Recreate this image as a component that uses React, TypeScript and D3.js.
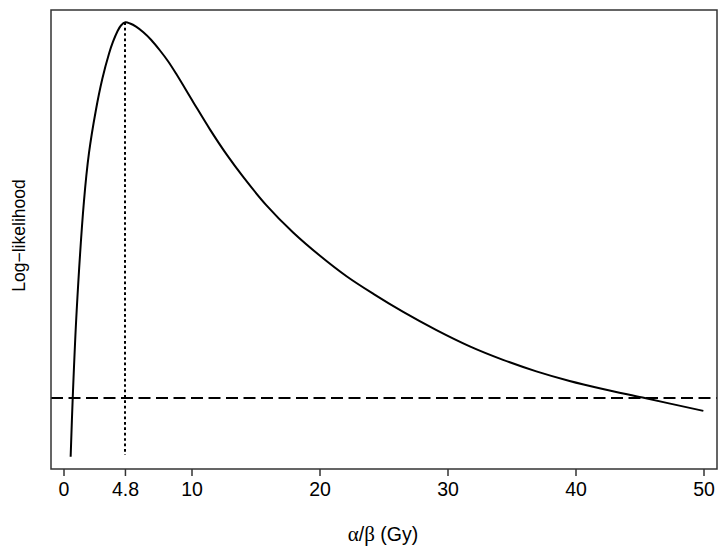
import React from "react";
import * as d3 from "d3";

const alphaBeta: number[] = [0.52, 0.68, 0.99, 1.56, 1.95, 2.48, 2.99, 3.52, 3.83, 4.16, 4.45, 4.8, 5.16, 5.63, 6.2, 6.8, 7.5, 8.13, 8.8, 10.1, 11.4, 12.7, 14.0, 15.8, 17.9, 20.0, 22.1, 24.2, 26.5, 29.1, 31.7, 34.3, 36.9, 39.5, 42.1, 45.2, 49.95];
const logLik: number[] = [-2.22, -1.923, -1.474, -0.914, -0.669, -0.453, -0.29, -0.159, -0.099, -0.048, -0.016, 0, -0.006, -0.022, -0.051, -0.089, -0.144, -0.199, -0.267, -0.408, -0.547, -0.675, -0.79, -0.934, -1.074, -1.193, -1.299, -1.389, -1.48, -1.573, -1.656, -1.725, -1.784, -1.833, -1.874, -1.918, -1.986];
const xTicks: number[] = [0, 4.8, 10, 20, 30, 40, 50];
const xTickLabels: string[] = ["0", "4.8", "10", "20", "30", "40", "50"];
const mle = 4.8;
const cutoff = -1.92;

const W = 727;
const H = 552;
const left = 51;
const right = 717;
const top = 10;
const bottom = 469;

export default function App() {
  const x = d3.scaleLinear().domain([0, 50]).range([64, 704]);
  const y = d3.scaleLinear().domain([-2.283, 0.063]).range([bottom, top]);
  const pts: [number, number][] = alphaBeta.map((a, i) => [a, logLik[i]]);
  const line = d3
    .line<[number, number]>()
    .x((d) => x(d[0]))
    .y((d) => y(d[1]))
    .curve(d3.curveCatmullRom.alpha(0.5));
  const font = "'Liberation Sans', Arial, Helvetica, sans-serif";
  const serif = "'Liberation Serif', 'DejaVu Serif', serif";
  const xm = Math.round(x(mle));
  return (
    <svg
      width={W}
      height={H}
      style={{ position: "absolute", left: 0, top: 0, background: "#fff" }}
      fontFamily={font}
    >
      <rect x={0} y={0} width={W} height={H} fill="#fff" />
      <path d={line(pts) || ""} fill="none" stroke="#000" strokeWidth={2} strokeLinejoin="round" />
      <line
        x1={xm}
        x2={xm}
        y1={y(0)}
        y2={y(logLik[0]) - 2}
        stroke="#000"
        strokeWidth={2}
        strokeDasharray="2.7,2.7"
      />
      <line
        x1={left}
        x2={right}
        y1={Math.round(y(cutoff))}
        y2={Math.round(y(cutoff))}
        stroke="#000"
        strokeWidth={2}
        strokeDasharray="12,5.5"
      />
      <rect
        x={left}
        y={top}
        width={right - left}
        height={bottom - top}
        fill="none"
        stroke="#333"
        strokeWidth={1.5}
      />
      {xTicks.map((t, i) => (
        <g key={i}>
          <line x1={x(t)} x2={x(t)} y1={bottom} y2={bottom + 7} stroke="#333" strokeWidth={1.5} />
          <text x={x(t)} y={496} textAnchor="middle" fontSize={19.5} fill="#000">
            {xTickLabels[i]}
          </text>
        </g>
      ))}
      <text x={383} y={541} textAnchor="middle" fontSize={19.5} fill="#000">
        <tspan fontFamily={serif} fontSize={21}>α</tspan>
        <tspan>/</tspan>
        <tspan fontFamily={serif} fontSize={21}>β</tspan>
        <tspan> (Gy)</tspan>
      </text>
      <text
        transform={`translate(25, ${(top + bottom) / 2 - 4}) rotate(-90)`}
        textAnchor="middle"
        fontSize={17.5}
        fill="#000"
      >
        Log−likelihood
      </text>
    </svg>
  );
}
